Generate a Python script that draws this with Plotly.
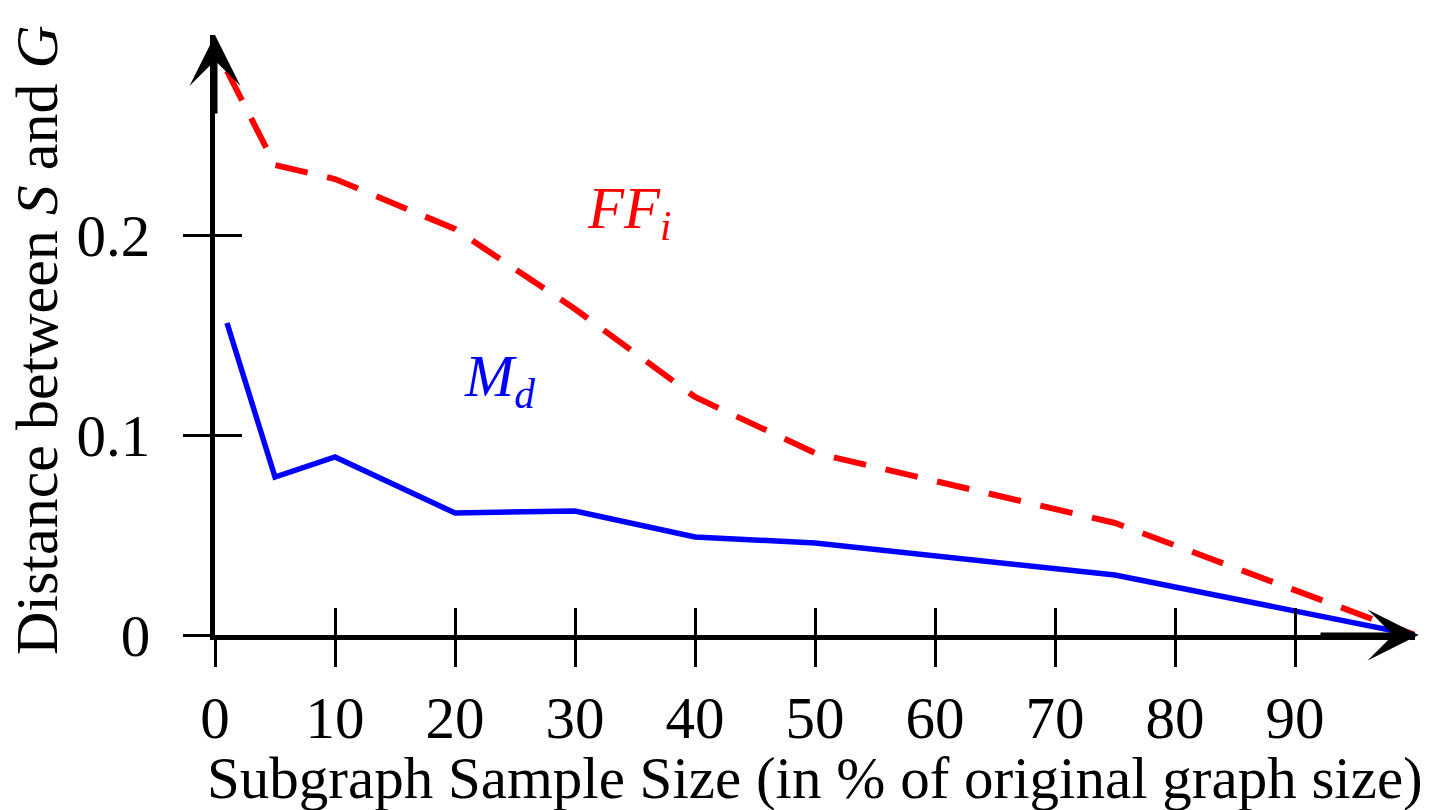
import plotly.graph_objects as go

# Data
sample_size = [1, 5, 10, 20, 30, 40, 50, 75, 100]
ff_i = [0.282, 0.235, 0.228, 0.203, 0.163, 0.119, 0.091, 0.056, 0.0]
m_d = [0.156, 0.079, 0.089, 0.061, 0.062, 0.049, 0.046, 0.030, 0.0]

x_ticks = [0, 10, 20, 30, 40, 50, 60, 70, 80, 90]
x_tick_labels = ["0", "10", "20", "30", "40", "50", "60", "70", "80", "90"]
y_ticks = [0, 0.1, 0.2]
y_tick_labels = ["0", "0.1", "0.2"]

FONT = "Liberation Serif, Times New Roman, serif"
FS = 59

fig = go.Figure()
fig.add_trace(go.Scatter(x=sample_size, y=ff_i, mode="lines",
                         line=dict(color="#ff0000", width=6, dash="33px,20px"),
                         cliponaxis=False, showlegend=False))
fig.add_trace(go.Scatter(x=sample_size, y=m_d, mode="lines",
                         line=dict(color="#0000ff", width=5.5),
                         cliponaxis=False, showlegend=False))

axis_common = dict(showgrid=False, zeroline=False, tickcolor="black", tickwidth=2.5,
                   automargin=False,
                   tickfont=dict(family=FONT, size=FS, color="black"))

fig.update_layout(
    width=1454, height=810,
    paper_bgcolor="white", plot_bgcolor="white",
    showlegend=False,
    margin=dict(l=215, r=39, t=35, b=175, autoexpand=False),
    font=dict(family=FONT, size=FS, color="black"),
    xaxis=dict(range=[0, 100], tickvals=x_ticks, ticktext=x_tick_labels,
               ticks="outside", ticklen=27, showline=True, linecolor="black", linewidth=5,
               ticklabelstandoff=0, **axis_common),
    yaxis=dict(range=[0, 0.3], tickvals=y_ticks, ticktext=y_tick_labels,
               ticks="outside", ticklen=27, showline=True, linecolor="black", linewidth=5,
               ticklabelstandoff=21, **axis_common),
    xaxis2=dict(range=[0, 100], overlaying="x", anchor="y", side="bottom",
                tickvals=x_ticks, ticks="inside", ticklen=27, showticklabels=False,
                showline=False, showgrid=False, zeroline=False, tickcolor="black", tickwidth=2.5),
    yaxis2=dict(range=[0, 0.3], overlaying="y", anchor="x", side="left",
                tickvals=y_ticks, ticks="inside", ticklen=27, showticklabels=False,
                showline=False, showgrid=False, zeroline=False, tickcolor="black", tickwidth=2.5),
)

# invisible trace to activate overlay axes
fig.add_trace(go.Scatter(x=[None], y=[None], xaxis="x2", yaxis="y2", showlegend=False,
                         hoverinfo="skip"))

annotations = [
    # axis arrowheads
    dict(x=100.3, y=0, ax=92, ay=0, xref="x", yref="y", axref="x", ayref="y",
         text="", showarrow=True, arrowhead=3, arrowsize=1.7, arrowwidth=5, arrowcolor="black"),
    dict(x=0, y=0.3, ax=0, ay=0.26, xref="x", yref="y", axref="x", ayref="y",
         text="", showarrow=True, arrowhead=3, arrowsize=1.7, arrowwidth=5, arrowcolor="black"),
    # series labels
    dict(x=23.7, y=0.1275, xref="x", yref="y", showarrow=False,
         text="<i>M</i><sub><i>d</i></sub>", font=dict(family=FONT, size=FS, color="#0000ff"),
         xanchor="center", yanchor="middle"),
    dict(x=34.5, y=0.2115, xref="x", yref="y", showarrow=False,
         text="<i>FF</i><sub><i>i</i></sub>", font=dict(family=FONT, size=FS, color="#ff0000"),
         xanchor="center", yanchor="middle"),
    # axis titles
    dict(x=(815 - 215) / 1200, y=(635 - 778) / 600, xref="paper", yref="paper", showarrow=False,
         text="Subgraph Sample Size (in % of original graph size)",
         font=dict(family=FONT, size=FS, color="black"), xanchor="center", yanchor="middle"),
    dict(x=(37 - 215) / 1200, y=(635 - 340) / 600, xref="paper", yref="paper", showarrow=False,
         text="Distance between <i>S</i> and <i>G</i>", textangle=-90,
         font=dict(family=FONT, size=FS + 1, color="black"), xanchor="center", yanchor="middle"),
]
fig.update_layout(annotations=annotations)

fig.write_html("out.html", config={"displayModeBar": False},
               post_script="document.body.style.margin='0px';document.body.style.overflow='hidden';")
